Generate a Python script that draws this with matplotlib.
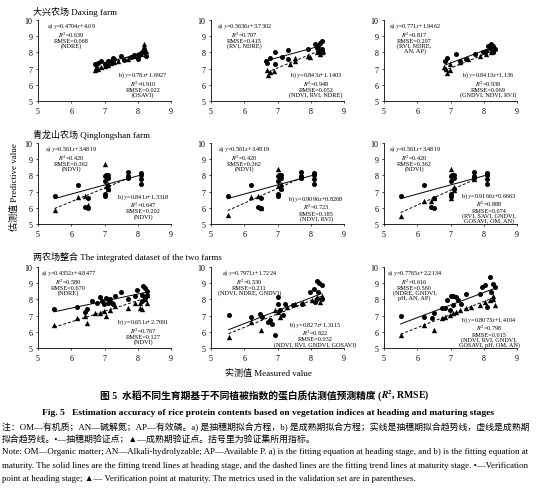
import matplotlib
matplotlib.use("Agg")
import numpy as np
import matplotlib.pyplot as plt

plt.rcParams['font.family'] = ['Liberation Serif', 'Noto Sans CJK SC', 'DejaVu Sans']
plt.rcParams['mathtext.fontset'] = 'stix'

# ---- data ----
# row 1: Daxing farm
r1c1_hx = [6.7, 6.75, 6.8, 6.9, 7.0, 7.1, 7.2, 7.25, 7.3, 7.5, 7.6, 7.8, 7.9, 8.0, 8.05, 8.1, 8.15, 8.2, 8.2, 8.25]
r1c1_hy = [7.3, 7.2, 7.35, 7.5, 7.3, 7.45, 7.5, 7.65, 7.6, 7.8, 7.55, 7.7, 7.85, 7.6, 7.9, 7.95, 8.1, 8.0, 8.2, 7.8]
r1c1_mx = [6.7, 6.75, 6.8, 6.9, 7.0, 7.1, 7.2, 7.3, 7.4, 7.7, 7.9, 8.0, 8.1, 8.15, 8.2, 8.2, 8.25]
r1c1_my = [6.9, 7.05, 7.0, 7.1, 7.15, 7.25, 7.35, 7.4, 7.45, 7.6, 7.75, 7.85, 7.9, 8.0, 8.5, 8.3, 8.1]

r1c2_hx = [6.66, 6.68, 6.78, 6.93, 6.93, 7.13, 7.33, 7.33, 7.93, 8.13, 8.18, 8.23, 8.28, 8.28, 8.33, 8.33]
r1c2_hy = [7.45, 7.35, 7.65, 8.0, 7.3, 7.7, 8.15, 7.6, 8.2, 8.5, 8.3, 8.4, 8.6, 8.0, 8.7, 8.2]
r1c2_mx = [6.68, 6.7, 6.78, 6.88, 7.38, 7.53, 7.53, 7.93, 7.98, 8.18, 8.23, 8.28, 8.33, 8.38]
r1c2_my = [6.9, 6.63, 6.8, 6.85, 7.3, 7.65, 7.5, 7.8, 7.7, 8.0, 8.2, 7.9, 8.05, 8.1]

r1c3_hx = [6.83, 6.9, 7.18, 7.28, 7.48, 7.73, 7.98, 8.08, 8.13, 8.18, 8.23, 8.28, 8.28, 8.33]
r1c3_hy = [7.5, 7.65, 7.9, 7.5, 7.6, 7.9, 8.0, 8.1, 8.4, 8.3, 8.5, 8.4, 8.0, 8.2]
r1c3_mx = [6.8, 6.86, 6.9, 6.98, 6.98, 7.28, 7.53, 7.88, 8.08, 8.18, 8.23, 8.28, 8.33]
r1c3_my = [7.1, 6.95, 6.75, 6.9, 7.3, 7.4, 7.6, 7.8, 7.9, 8.4, 8.0, 8.1, 8.3]

# row 2: Qinglongshan farm (heading points shared by the three panels)
r2_hx = [5.5, 6.2, 6.42, 6.5, 6.5, 7.0, 7.0, 7.0, 7.0, 7.05, 7.1, 7.1, 7.1, 7.7, 7.7, 7.7, 8.1, 8.1, 8.1, 8.1]
r2_hy = [6.72, 7.4, 6.02, 6.0, 6.6, 6.75, 6.85, 7.65, 7.95, 8.0, 8.05, 7.85, 7.15, 8.2, 7.95, 7.85, 8.15, 8.05, 7.75, 7.45]
r2c1_mx = [5.5, 6.2, 6.42, 6.5, 7.0, 7.05, 7.1, 7.1, 7.7, 7.7]
r2c1_my = [5.85, 6.67, 6.72, 6.2, 8.7, 7.35, 7.45, 7.15, 8.1, 7.95]
r2c2_mx = [5.5, 6.2, 6.42, 6.5, 7.0, 7.0, 7.1, 7.1, 7.7, 7.7]
r2c2_my = [5.58, 6.65, 6.72, 6.0, 8.4, 7.35, 7.25, 7.45, 8.1, 7.9]
r2c3_mx = [5.5, 6.2, 6.42, 6.5, 7.0, 7.0, 7.0, 7.1, 7.1, 7.7, 7.7]
r2c3_my = [5.5, 6.4, 6.45, 6.58, 8.4, 6.6, 6.8, 7.3, 7.1, 7.8, 8.0]

# row 3: the two farms together
r3c1_hx = [5.48, 6.18, 6.41, 6.48, 6.61, 6.77, 6.87, 6.92, 6.97, 7.05, 7.12, 7.17, 7.22, 7.27, 7.32,
           7.49, 7.72, 7.92, 7.99, 8.12, 8.12, 8.17, 8.22, 8.22, 8.27, 8.27]
r3c1_hy = [7.4, 7.55, 7.2, 7.4, 7.9, 7.8, 8.14, 7.9, 7.69, 8.1, 7.8, 8.0, 7.8, 7.69, 8.2,
           8.45, 8.0, 8.2, 8.55, 8.3, 7.9, 8.84, 8.73, 8.1, 8.5, 8.3]
r3c1_mx = [5.48, 6.18, 6.41, 6.48, 6.71, 6.87, 6.97, 7.05, 7.17, 7.32, 7.72, 7.92, 8.07, 8.07, 8.12, 8.22, 8.27, 8.27]
r3c1_my = [6.43, 6.88, 6.98, 6.57, 7.18, 7.18, 7.29, 6.98, 7.33, 7.6, 7.49, 7.8, 7.49, 7.8, 7.39, 8.0, 8.3, 7.8]

r3c2_hx = [5.53, 6.21, 6.48, 6.53, 6.7, 6.78, 6.83, 6.93, 7.0, 7.03, 7.08, 7.18, 7.23, 7.48, 7.73,
           7.98, 8.1, 8.13, 8.18, 8.2, 8.23, 8.26, 8.33, 8.33]
r3c2_hy = [7.04, 6.94, 7.08, 6.94, 6.63, 6.73, 6.47, 5.78, 8.14, 7.74, 7.35, 7.04, 7.69, 7.65, 7.74,
           8.45, 8.65, 7.84, 8.04, 9.16, 8.45, 9.0, 8.86, 8.04]
r3c2_mx = [5.53, 6.21, 6.51, 6.93, 7.0, 7.08, 7.3, 7.53, 7.78, 8.03, 8.18, 8.28, 8.33]
r3c2_my = [5.67, 6.6, 6.14, 7.35, 7.24, 6.94, 7.55, 7.69, 7.8, 7.94, 8.14, 7.84, 8.24]

r3c3_hx = [5.5, 6.2, 6.43, 6.5, 6.73, 6.83, 6.9, 6.98, 7.03, 7.08, 7.08, 7.18, 7.23, 7.33, 7.48,
           7.88, 7.96, 8.03, 8.11, 8.2, 8.23, 8.28, 8.33]
r3c3_hy = [7.0, 6.94, 6.88, 7.14, 7.47, 7.47, 7.94, 7.35, 8.24, 8.24, 7.65, 8.14, 7.94, 7.74, 8.35,
           8.35, 8.76, 8.86, 7.55, 9.37, 8.45, 8.96, 8.76]
r3c3_mx = [5.5, 6.2, 6.5, 6.73, 6.83, 6.98, 7.08, 7.18, 7.28, 7.48, 7.63, 7.88, 8.03, 8.18, 8.28, 8.28, 8.33]
r3c3_my = [5.78, 6.43, 6.12, 6.84, 6.94, 7.04, 7.14, 7.24, 7.35, 7.47, 7.55, 7.65, 7.84, 7.94, 8.04, 8.24, 7.65]

# fitted equations (slope, intercept): heading (a) and maturity (b)
fit_a = [[(0.4704, 4.09), (0.5636, 3.7302), (0.771, 1.9462)],
         [(0.561, 3.4819), (0.561, 3.4819), (0.561, 3.4819)],
         [(0.4352, 4.8477), (0.7971, 1.7224), (0.7765, 2.2134)]]
fit_b = [[(0.78, 1.6927), (0.843, 1.1403), (0.8413, 1.136)],
         [(0.841, 1.3318), (0.9096, 0.8268), (0.9166, 0.6663)],
         [(0.651, 2.7091), (0.827, 1.3115), (0.8073, 1.4104)]]

text_a = [["a) $y$=0.4704$x$+4.09\n$R^2$=0.639\nRMSE=0.068\n(NDRE)",
           "a) $y$=0.5636$x$+3.7302\n$R^2$=0.707\nRMSE=0.415\n(RVI, NDRE)",
           "a) $y$=0.771$x$+1.9462\n$R^2$=0.817\nRMSE=0.207\n(RVI, NDRE,\nAN, AP)"],
          ["a) $y$=0.561$x$+3.4819\n$R^2$=0.420\nRMSE=0.362\n(NDVI)"] * 3,
          ["a) $y$=0.4352$x$+4.8477\n$R^2$=0.580\nRMSE=0.670\n(NDRE)",
           "a) $y$=0.7971$x$+1.7224\n$R^2$=0.530\nRMSE=0.211\n(NDVI, NDRE, GNDVI)",
           "a) $y$=0.7765$x$+2.2134\n$R^2$=0.616\nRMSE=0.560\n(NDRE, GNDVI,\npH, AN, AP)"]]
text_b = [["b) $y$=0.78$x$+1.6927\n$R^2$=0.910\nRMSE=0.022\n(OSAVI)",
           "b) $y$=0.843$x$+1.1403\n$R^2$=0.948\nRMSE=0.052\n(NDVI, RVI, NDRE)",
           "b) $y$=0.8413$x$+1.136\n$R^2$=0.938\nRMSE=0.069\n(GNDVI, NDVI, RVI)"],
          ["b) $y$=0.841$x$+1.3318\n$R^2$=0.647\nRMSE=0.202\n(NDVI)",
           "b) $y$=0.9096$x$+0.8268\n$R^2$=0.723\nRMSE=0.185\n(NDVI, RVI)",
           "b) $y$=0.9166$x$+0.6663\n$R^2$=0.888\nRMSE=0.074\n(RVI, SAVI, GNDVI,\nGOSAVI, OM, AN)"],
          ["b) $y$=0.651$x$+2.7091\n$R^2$=0.767\nRMSE=0.127\n(NDVI)",
           "b) $y$=0.827$x$+1.3115\n$R^2$=0.822\nRMSE=0.032\n(NDVI, RVI, GNDVI, GOSAVI)",
           "b) $y$=0.8073$x$+1.4104\n$R^2$=0.798\nRMSE=0.015\n(NDVI, RVI, GNDVI,\nGOSAVI, pH, OM, AN)"]]

row_titles = ["大兴农场 Daxing farm", "青龙山农场 Qinglongshan farm",
              "两农场整合 The integrated dataset of the two farms"]

heading = [[(r1c1_hx, r1c1_hy), (r1c2_hx, r1c2_hy), (r1c3_hx, r1c3_hy)],
           [(r2_hx, r2_hy)] * 3,
           [(r3c1_hx, r3c1_hy), (r3c2_hx, r3c2_hy), (r3c3_hx, r3c3_hy)]]
maturity = [[(r1c1_mx, r1c1_my), (r1c2_mx, r1c2_my), (r1c3_mx, r1c3_my)],
            [(r2c1_mx, r2c1_my), (r2c2_mx, r2c2_my), (r2c3_mx, r2c3_my)],
            [(r3c1_mx, r3c1_my), (r3c2_mx, r3c2_my), (r3c3_mx, r3c3_my)]]

W, H = 539, 489
fig = plt.figure(figsize=(W / 100, H / 100), dpi=100)

col_left = [38, 211, 384]
row_top = [21, 144, 268]
ax_w, ax_h = 133, 81
# text block centres (axes fraction) and top of b) block
a_cx = [[0.25, 0.25, 0.23], [0.25, 0.25, 0.23], [0.23, 0.29, 0.23]]
b_cx = [[0.79, 0.79, 0.78], [0.79, 0.79, 0.79], [0.79, 0.78, 0.79]]
b_top = [[0.39, 0.39, 0.39], [0.41, 0.38, 0.42], [0.39, 0.36, 0.42]]

for i in range(3):
    for j in range(3):
        ax = fig.add_axes([col_left[j] / W, 1 - (row_top[i] + ax_h) / H, ax_w / W, ax_h / H])
        hx, hy = heading[i][j]
        mx, my = maturity[i][j]
        ax.scatter(hx, hy, s=13, marker='o', color='black', zorder=3, linewidths=0)
        ax.scatter(mx, my, s=15, marker='^', color='black', zorder=3, linewidths=0)
        xs = np.array([min(hx), max(hx)])
        k, b = fit_a[i][j]
        ax.plot(xs, k * xs + b, color='black', lw=0.7)
        xs = np.array([min(mx), max(mx)])
        k, b = fit_b[i][j]
        ax.plot(xs, k * xs + b, color='black', lw=0.7, dashes=(3, 2))
        ax.set_xlim(5, 9)
        ax.set_ylim(5, 10)
        ax.set_xticks([5, 6, 7, 8, 9])
        ax.set_yticks([5, 6, 7, 8, 9, 10])
        for s in ['top', 'right']:
            ax.spines[s].set_visible(False)
        for s in ['left', 'bottom']:
            ax.spines[s].set_linewidth(0.6)
        ax.tick_params(labelsize=5.8, length=1.5, width=0.5, pad=2.5)
        ax.text(a_cx[i][j], 0.995, text_a[i][j], transform=ax.transAxes, ha='center', va='top',
                multialignment='center', fontsize=4.5, linespacing=0.85)
        ax.text(b_cx[i][j], b_top[i][j], text_b[i][j], transform=ax.transAxes, ha='center', va='top',
                multialignment='center', fontsize=4.5, linespacing=0.85, clip_on=False)

title_y = [12, 135, 257]
for t, y in zip(row_titles, title_y):
    fig.text(33 / W, 1 - y / H, t, fontsize=6.5, va='center', ha='left')

fig.text(14 / W, 1 - 187 / H, "估测值 Predictive value", rotation=90, fontsize=6.5, ha='center', va='center')
fig.text(268 / W, 1 - 373 / H, "实测值 Measured value", fontsize=6.5, ha='center', va='center')

# caption: CJK part and math part as separate texts (mathtext cannot draw CJK)
cap1 = fig.text(100 / W, 1 - 399 / H, "图 5  水稻不同生育期基于不同植被指数的蛋白质估测值预测精度 (",
                fontsize=7, fontweight='bold', ha='left', va='baseline')
fig.canvas.draw()
bb = cap1.get_window_extent()
fig.text(bb.x1 / fig.bbox.width, 1 - 399 / H, "$\\mathbfit{R}^\\mathbf{2}$, RMSE)",
         fontsize=7, fontweight='bold', ha='left', va='baseline')
fig.text(268 / W, 1 - 413 / H,
         "Fig. 5   Estimation accuracy of rice protein contents based on vegetation indices at heading and maturing stages",
         fontsize=6.8, fontweight='bold', ha='center', va='center')

notes = ["注：OM—有机质；AN—碱解氮；AP—有效磷。a) 是抽穗期拟合方程，b) 是成熟期拟合方程；实线是抽穗期拟合趋势线，虚线是成熟期",
         "拟合趋势线。•—抽穗期验证点；▲—成熟期验证点。括号里为验证集所用指标。",
         "Note: OM—Organic matter; AN—Alkali-hydrolyzable; AP—Available P. a) is the fitting equation at heading stage, and b) is the fitting equation at",
         "maturity. The solid lines are the fitting trend lines at heading stage, and the dashed lines are the fitting trend lines at maturity stage. •—Verification",
         "point at heading stage; ▲— Verification point at maturity. The metrics used in the validation set are in parentheses."]
note_y = [427, 440, 452, 466, 479]
for t, y in zip(notes, note_y):
    fig.text(2 / W, 1 - y / H, t, fontsize=6.4, ha='left', va='center')

fig.savefig("out.png", dpi=100)
